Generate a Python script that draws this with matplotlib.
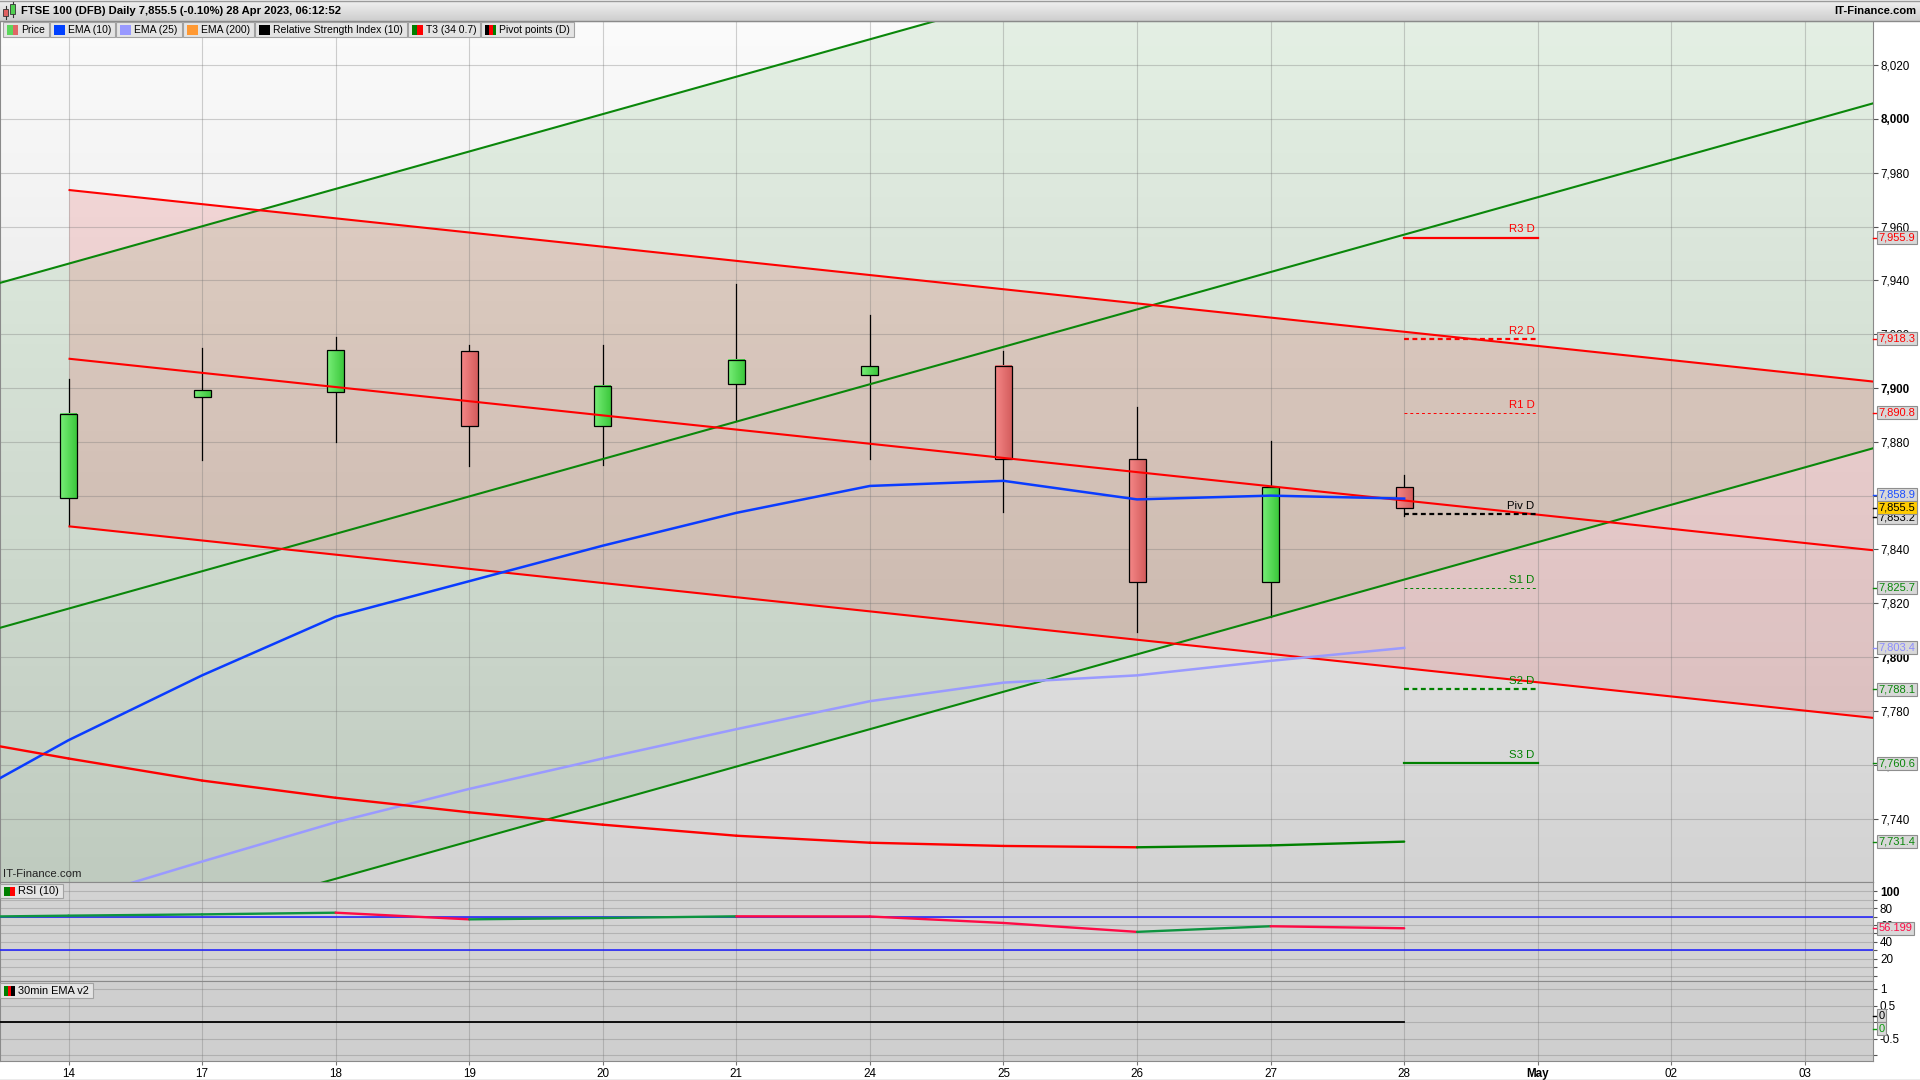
import numpy as np
import matplotlib
matplotlib.use("Agg")
import matplotlib.pyplot as plt
from matplotlib.patches import Rectangle
from matplotlib.colors import LinearSegmentedColormap
import matplotlib.transforms as mtransforms

plt.rcParams['font.family'] = ['Liberation Sans', 'DejaVu Sans']

# ---------------- data ----------------
date_labels = ['14', '17', '18', '19', '20', '21', '24', '25', '26', '27', '28', 'May', '02', '03']
opens  = [7859.1, 7896.8, 7898.6, 7913.6, 7885.9, 7901.4, 7905.0, 7908.2, 7873.5, 7827.8, 7863.2]
highs  = [7903.2, 7915.0, 7919.1, 7915.9, 7915.9, 7938.6, 7927.3, 7913.6, 7892.8, 7880.3, 7867.5]
lows   = [7848.6, 7873.2, 7880.0, 7870.9, 7871.4, 7887.7, 7873.6, 7854.1, 7809.4, 7815.0, 7852.5]
closes = [7890.5, 7899.1, 7914.1, 7885.9, 7900.9, 7910.5, 7908.2, 7873.6, 7827.8, 7863.1, 7855.5]

ema10_prev = 7741.6
ema10 = [7769.1, 7793.2, 7815.0, 7828.2, 7841.4, 7853.6, 7863.6, 7865.5, 7858.6, 7860.0, 7858.9]
ema25 = [7709.0, 7724.0, 7738.6, 7751.0, 7762.3, 7773.2, 7783.6, 7790.5, 7793.2, 7798.6, 7803.4]
t3_prev = 7771.1
t3 = [7762.3, 7754.1, 7747.7, 7742.3, 7737.7, 7733.6, 7731.0, 7729.8, 7729.3, 7730.0, 7731.4]

rsi_prev = 69.4
rsi = [71.2, 72.7, 74.7, 66.8, 68.4, 70.4, 70.2, 62.5, 51.9, 58.6, 56.199]
rsi_levels = [70, 30]

ema30_prev = 0.0
ema30 = [0.0, 0.0, 0.0, 0.0, 0.0, 0.0, 0.0, 0.0, 0.0, 0.0, 0.0]

pivot_names = ['R3 D', 'R2 D', 'R1 D', 'Piv D', 'S1 D', 'S2 D', 'S3 D']
pivot_values = [7955.9, 7918.3, 7890.8, 7853.2, 7825.7, 7788.1, 7760.6]

# trend channels: values at 14 Apr and at 28 Apr
green_channel_14 = [7946.2, 7818.0, 7689.8]
green_channel_28 = [8085.2, 7957.0, 7828.8]
red_channel_14 = [7973.6, 7910.9, 7848.6]
red_channel_28 = [7920.9, 7858.2, 7795.9]

price_ticks = list(range(7740, 8021, 20))
rsi_ticks = list(range(0, 101, 10))
ema30_ticks = [-1, -0.5, 0, 0.5, 1]

header_text = "FTSE 100 (DFB) Daily 7,855.5 (-0.10%) 28 Apr 2023, 06:12:52"
brand = "IT-Finance.com"

# ---------------- figure ----------------
W, H = 1920, 1080
fig = plt.figure(figsize=(W / 100, H / 100), dpi=100)
fig.patch.set_facecolor('white')


def fr(x0, y0, x1, y1):
    return [x0 / W, 1 - y1 / H, (x1 - x0) / W, (y1 - y0) / H]


ax = fig.add_axes(fr(0, 21, 1873, 882))
ax_rsi = fig.add_axes(fr(0, 882, 1873, 981), sharex=ax)
ax_e = fig.add_axes(fr(0, 981, 1873, 1061), sharex=ax)

n = len(closes)
xs = np.arange(n)
xlim = (-0.513, 13.51)
ylim = (7716.4, 8036.4)

GRID = dict(color=(0.45, 0.45, 0.45), alpha=0.33, lw=0.8)
SPINE = '#8a8a8a'
TICKFS = 8.4

# background gradient
grad = np.linspace(0, 1, 256).reshape(-1, 1)
cm_bg = LinearSegmentedColormap.from_list('bg', ['#fbfbfb', '#d3d3d3'])
ax.imshow(grad, cmap=cm_bg, extent=[0, 1, 0, 1], transform=ax.transAxes,
          aspect='auto', zorder=0, origin='upper', interpolation='bilinear')


def line_vals(v14, v28, x):
    slope = (v28 - v14) / (xs[10] - xs[0])
    return v14 + slope * (np.asarray(x) - xs[0])


# green channel
xx = np.array([xlim[0] - 0.1, xlim[1] + 0.1])
ax.fill_between(xx, line_vals(green_channel_14[2], green_channel_28[2], xx),
                line_vals(green_channel_14[0], green_channel_28[0], xx),
                color=(0.0, 0.5, 0.0), alpha=0.09, lw=0, zorder=1)
for v14, v28 in zip(green_channel_14, green_channel_28):
    ax.plot(xx, line_vals(v14, v28, xx), color='#0a870a', lw=1.5, zorder=5,
            solid_capstyle='butt')

# red channel
xr = np.array([xs[0], xlim[1] + 0.1])
ax.fill_between(xr, line_vals(red_channel_14[2], red_channel_28[2], xr),
                line_vals(red_channel_14[0], red_channel_28[0], xr),
                color=(0.9, 0.0, 0.0), alpha=0.12, lw=0, zorder=1)
for v14, v28 in zip(red_channel_14, red_channel_28):
    ax.plot(xr, line_vals(v14, v28, xr), color='#ff0000', lw=1.5, zorder=5,
            solid_capstyle='butt')

# candles
bw = 0.127
cm_red = LinearSegmentedColormap.from_list('r', ['#f58787', '#d45d5d'])
cm_grn = LinearSegmentedColormap.from_list('g', ['#78ee78', '#3cc83c'])
hgrad = np.linspace(0, 1, 32).reshape(1, -1)
for i in range(n):
    o, h, l, c = opens[i], highs[i], lows[i], closes[i]
    ax.plot([xs[i], xs[i]], [l, h], color='black', lw=0.9, zorder=3)
    lo, hi = min(o, c), max(o, c)
    cmap = cm_grn if c >= o else cm_red
    ax.imshow(hgrad, cmap=cmap, extent=[xs[i] - bw / 2, xs[i] + bw / 2, lo, hi],
              aspect='auto', zorder=3.2, interpolation='bilinear')
    ax.add_patch(Rectangle((xs[i] - bw / 2, lo), bw, hi - lo, fc='none', ec='black',
                           lw=0.9, zorder=3.4))

# EMAs
xe = np.concatenate([[xs[0] - 1], xs])
ax.plot(xe, [ema10_prev] + ema10, color='#0a3cff', lw=1.8, zorder=6)
ax.plot(xs, ema25, color='#9a9aff', lw=1.8, zorder=6)

# T3 coloured by direction
t3_all = [t3_prev] + t3
for i in range(len(t3_all) - 1):
    col = '#008000' if t3_all[i + 1] >= t3_all[i] else '#ff0000'
    ax.plot(xe[i:i + 2], t3_all[i:i + 2], color=col, lw=1.7, zorder=6,
            solid_capstyle='round')

# pivots
piv_cols = ['#ff0000', '#ff0000', '#ff0000', '#000000', '#008000', '#008000', '#008000']
piv_styles = [dict(ls='-', lw=1.6), dict(ls=(0, (2.2, 1.6)), lw=1.6), dict(ls=(0, (3, 3)), lw=0.7),
              dict(ls=(0, (2.2, 1.6)), lw=1.6), dict(ls=(0, (3, 3)), lw=0.7),
              dict(ls=(0, (2.2, 1.6)), lw=1.6), dict(ls='-', lw=1.6)]
for name, v, col, st in zip(pivot_names, pivot_values, piv_cols, piv_styles):
    ax.plot([xs[-1], xs[-1] + 1], [v, v], color=col, zorder=7, **st)
    ax.text(xs[-1] + 0.975, v + 1.2, name, color=col, fontsize=8.2, ha='right',
            va='bottom', zorder=8)

# axes formatting main
ax.set_xlim(xlim)
ax.set_ylim(ylim)
ax.set_xticks(np.arange(len(date_labels)))
ax.yaxis.tick_right()
ax.set_yticks(price_ticks, [f"{v:,}" for v in price_ticks])
for v, lab in zip(price_ticks, ax.get_yticklabels()):
    if v % 100 == 0:
        lab.set_fontweight('bold')
ax.tick_params(axis='y', direction='out', length=3.5, pad=2, labelsize=TICKFS,
               colors='#555555', labelcolor='black')
ax.tick_params(axis='x', length=0, labelbottom=False)
ax.grid(True, **GRID)
for s in ax.spines.values():
    s.set_color(SPINE)
ax.text(0.0018, 0.004, brand, transform=ax.transAxes, fontsize=8.2, color='#222222',
        va='bottom', ha='left', zorder=9)


def vbox(axis, value, text, color, fc='#d8d8d8', tcolor=None, tickcol=None):
    t = mtransforms.blended_transform_factory(axis.transAxes, axis.transData)
    axis.plot([1.0, 1.0028], [value, value], transform=t, color=tickcol or color, lw=1,
              clip_on=False, zorder=10)
    axis.text(1.0031, value, text, transform=t, fontsize=8.0, color=tcolor or color,
              va='center', ha='left', zorder=11, clip_on=False,
              bbox=dict(boxstyle='square,pad=0.14', fc=fc, ec='#8e8e8e', lw=0.8))


vbox(ax, pivot_values[0], f"{pivot_values[0]:,.1f}", '#ff0000')
vbox(ax, pivot_values[1], f"{pivot_values[1]:,.1f}", '#ff0000')
vbox(ax, pivot_values[2], f"{pivot_values[2]:,.1f}", '#ff0000')
vbox(ax, pivot_values[3] - 1.3, f"{pivot_values[3]:,.1f}", '#000000')
vbox(ax, ema10[-1] + 1.4, f"{ema10[-1]:,.1f}", '#1a4dff')
vbox(ax, closes[-1], f"{closes[-1]:,.1f}", '#000000', fc='#ffcc00')
vbox(ax, pivot_values[4], f"{pivot_values[4]:,.1f}", '#0a870a')
vbox(ax, ema25[-1], f"{ema25[-1]:,.1f}", '#8c8cff')
vbox(ax, pivot_values[5], f"{pivot_values[5]:,.1f}", '#0a870a')
vbox(ax, pivot_values[6], f"{pivot_values[6]:,.1f}", '#0a870a')
vbox(ax, t3[-1], f"{t3[-1]:,.1f}", '#0a870a')

# ---------------- RSI panel ----------------
ax_rsi.set_facecolor('#d3d3d3')
rsi_all = [rsi_prev] + rsi
for i in range(len(rsi_all) - 1):
    col = '#0d9440' if rsi_all[i + 1] >= rsi_all[i] else '#ff0a45'
    ax_rsi.plot(xe[i:i + 2], rsi_all[i:i + 2], color=col, lw=1.7, zorder=4,
                solid_capstyle='round')
for lv in rsi_levels:
    ax_rsi.axhline(lv, color='#1a1aff', lw=1.1, zorder=3)
ax_rsi.set_ylim(-6.5, 111.2)
ax_rsi.yaxis.tick_right()
ax_rsi.set_yticks(rsi_ticks, [str(v) if (v % 20 == 0 and v > 0) else '' for v in rsi_ticks])
for v, lab in zip(rsi_ticks, ax_rsi.get_yticklabels()):
    if v == 100:
        lab.set_fontweight('bold')
ax_rsi.tick_params(axis='y', direction='out', length=3, pad=2, labelsize=TICKFS,
                   colors='#555555', labelcolor='black')
ax_rsi.tick_params(axis='x', length=0, labelbottom=False)
ax_rsi.grid(True, **GRID)
for s in ax_rsi.spines.values():
    s.set_color(SPINE)
vbox(ax_rsi, rsi[-1], f"{rsi[-1]:.3f}", '#ff0a45')

# ---------------- 30min EMA panel ----------------
ax_e.set_facecolor('#cfcfcf')
ax_e.plot(xe, [ema30_prev] + ema30, color='black', lw=1.3, zorder=4)
ax_e.set_ylim(-1.17, 1.24)
ax_e.yaxis.tick_right()
ax_e.set_yticks(ema30_ticks, ['', '-0.5', '', '0.5', '1'])
ax_e.tick_params(axis='y', direction='out', length=3, pad=2, labelsize=TICKFS,
                 colors='#555555', labelcolor='black')
ax_e.set_xticks(np.arange(len(date_labels)), date_labels)
ax_e.tick_params(axis='x', direction='out', length=3, pad=2, labelsize=TICKFS,
                 colors='#777777', labelcolor='black')
for lab in ax_e.get_xticklabels():
    if lab.get_text() == 'May':
        lab.set_fontweight('bold')
ax_e.grid(True, **GRID)
for s in ax_e.spines.values():
    s.set_color(SPINE)
vbox(ax_e, 0.2, "0", '#000000')
vbox(ax_e, -0.2, "0", '#0a9a0a', tickcol='#0a9a0a')
ax_e.set_xlim(xlim)

# ---------------- overlay: header & legends ----------------
ov = fig.add_axes([0, 0, 1, 1], zorder=20)
ov.patch.set_alpha(0)
cm_h = LinearSegmentedColormap.from_list('h', ['#f2f2f2', '#cdcdcd'])
ov.imshow(grad, cmap=cm_h, extent=[0, W, 21, 0], aspect='auto', zorder=1, origin='upper',
          interpolation='bilinear')
ov.set_xlim(0, W)
ov.set_ylim(H, 0)
ov.axis('off')
ov.plot([0, W], [0.5, 0.5], color='#9a9a9a', lw=1, zorder=2)
ov.plot([0, W], [21, 21], color='#8a8a8a', lw=1, zorder=2)
ov.plot([0, W], [1079.5, 1079.5], color='#9a9a9a', lw=1, zorder=2)

# header icon
ov.plot([5.5, 5.5], [6, 19], color='#333333', lw=0.8, zorder=3)
ov.add_patch(Rectangle((3, 9), 5, 7, fc='#e06060', ec='#333333', lw=0.6, zorder=4))
ov.plot([12.5, 12.5], [1.5, 17], color='#333333', lw=0.8, zorder=3)
ov.add_patch(Rectangle((10, 4), 5, 10, fc='#50d050', ec='#333333', lw=0.6, zorder=4))
ov.text(21, 11.5, header_text, fontsize=8.1, fontweight='bold', va='center', ha='left',
        zorder=5)
ov.text(1916, 11.5, brand, fontsize=8.1, fontweight='bold', va='center', ha='right', zorder=5)

renderer = fig.canvas.get_renderer()


def legend_row(items, x0, y0, y1, fsize):
    x = x0
    for label, cols in items:
        t = ov.text(x + 18, (y0 + y1) / 2 + 0.5, label, fontsize=fsize, va='center',
                    ha='left', zorder=6)
        bb = t.get_window_extent(renderer=renderer)
        tw = bb.width
        bw_ = tw + 22
        ov.add_patch(Rectangle((x, y0), bw_, y1 - y0, fc='#e4e4e4', ec='#a2a2a2', lw=0.8,
                               zorder=5))
        iw = 11.0 / len(cols)
        for k, c in enumerate(cols):
            ov.add_patch(Rectangle((x + 4 + k * iw, y0 + 2.5), iw, y1 - y0 - 5, fc=c,
                                   ec='none', zorder=6))
        x += bw_ + 1


legend_row([('Price', ['#5cd65c', '#e06666']), ('EMA (10)', ['#0040ff']),
            ('EMA (25)', ['#9999ff']), ('EMA (200)', ['#ff9933']),
            ('Relative Strength Index (10)', ['#000000']),
            ('T3 (34 0.7)', ['#008000', '#ff0000']),
            ('Pivot points (D)', ['#000000', '#ff0000', '#008000'])], 3, 22, 37, 7.5)
legend_row([('RSI (10)', ['#008000', '#ff0000'])], 0, 884, 898, 7.9)
legend_row([('30min EMA v2', ['#008000', '#ff0000', '#000000'])], 0, 983, 998, 7.9)

fig.savefig('out.png', dpi=100, facecolor='white')
